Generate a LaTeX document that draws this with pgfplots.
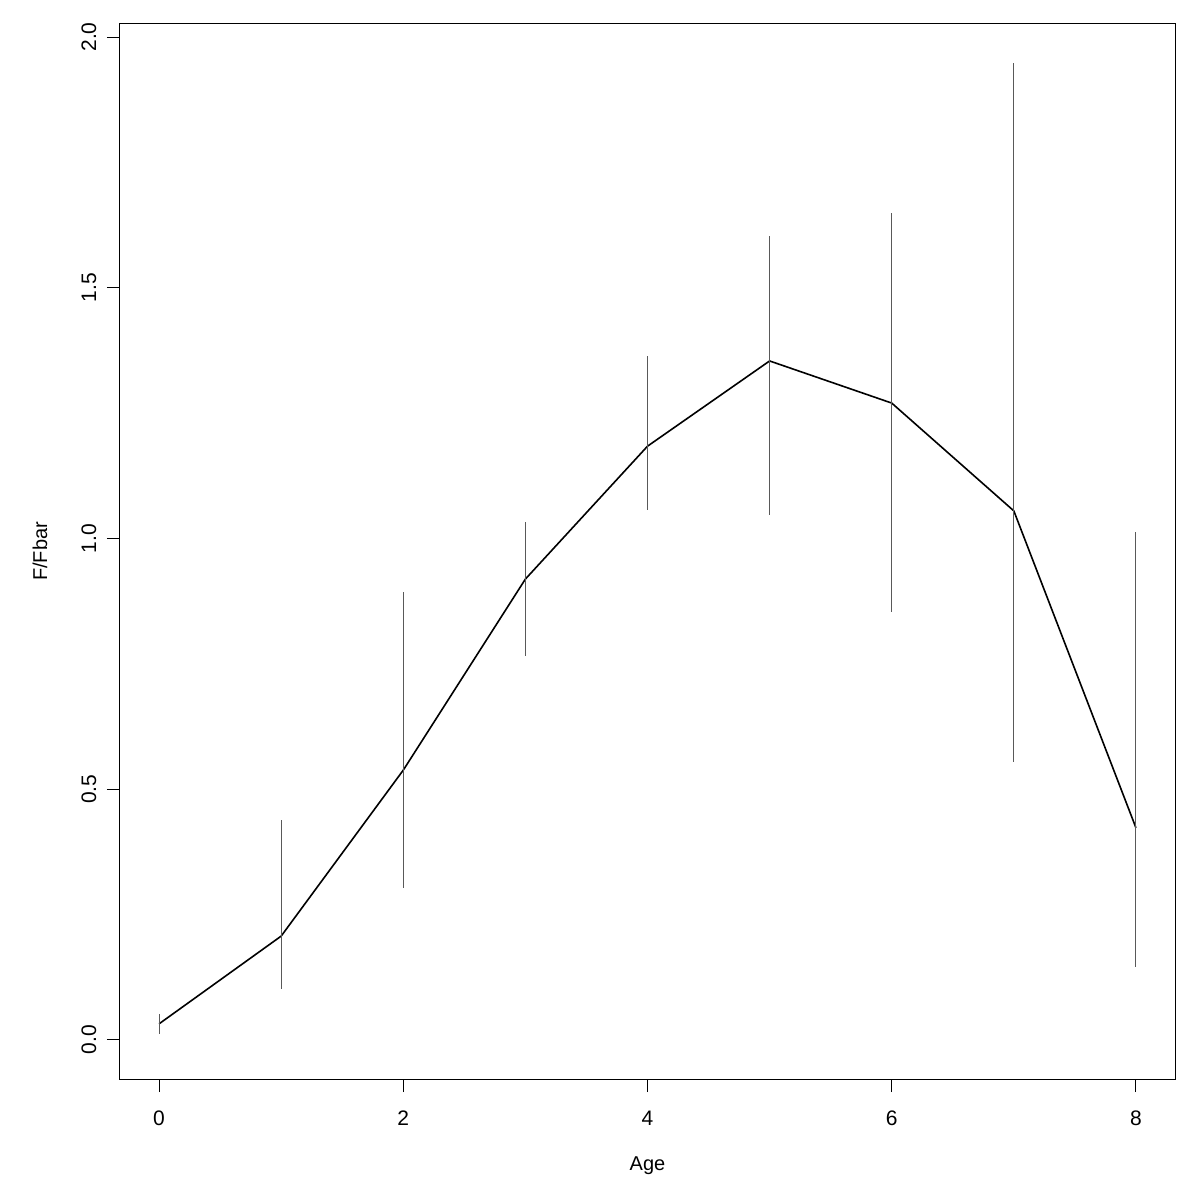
\documentclass[border=0pt]{standalone}
\usepackage{pgfplots}
\pgfplotsset{compat=1.18}
\usepackage{fontspec}
\setmainfont{Liberation Sans}
\begin{document}
\begin{tikzpicture}
\begin{axis}[
  scale only axis,
  width=527.5pt, height=527.5pt,
  xmin=-0.32, xmax=8.32,
  ymin=-0.078, ymax=2.026,
  axis line style={black, line width=0.5pt},
  tick pos=left, tick align=outside,
  major tick length=6.5pt,
  tick style={black, line width=0.5pt},
  xtick={0,2,4,6,8},
  ytick={0,0.5,1,1.5,2},
  /pgf/number format/assume math mode=true,
  tick label style={font=\fontsize{10.5}{12}\selectfont},
  yticklabel style={/pgf/number format/fixed, /pgf/number format/fixed zerofill, /pgf/number format/precision=1, rotate=90, anchor=south, yshift=1.75pt},
  xticklabel style={yshift=-6pt},
  label style={font=\fontsize{10.5}{12}\selectfont},
  xlabel={Age}, ylabel={F/Fbar},
  every axis x label/.style={at={(axis description cs:0.5,0)}, anchor=center, yshift=-43.5pt},
  every axis y label/.style={at={(axis description cs:0,0.5)}, anchor=center, rotate=90, yshift=40pt},
]
\addplot[black, line width=0.8pt, mark=none,
  error bars/.cd, y dir=both, y explicit, error mark=none,
  error bar style={black!65, line width=0.5pt}]
  table[x=x, y=y, y error plus=ep, y error minus=em] {
x y ep em
0 0.032 0.020 0.020
1 0.207 0.232 0.105
2 0.538 0.355 0.235
3 0.919 0.114 0.153
4 1.184 0.180 0.127
5 1.354 0.249 0.307
6 1.270 0.379 0.417
7 1.055 0.893 0.501
8 0.423 0.590 0.278
};
\coordinate (bl) at (rel axis cs:0,0);
\coordinate (tr) at (rel axis cs:1,1);
\end{axis}
\path ([shift={(-60pt,-60.5pt)}]bl) rectangle ([shift={(12.5pt,12pt)}]tr);
\end{tikzpicture}
\end{document}
